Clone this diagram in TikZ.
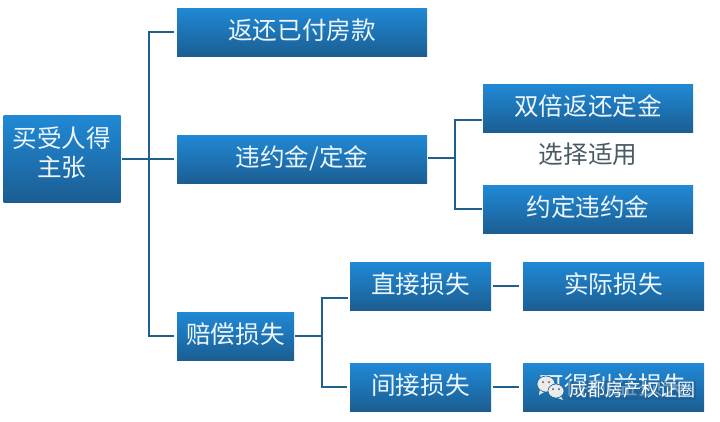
\documentclass[tikz,border=0pt]{standalone}
\usepackage{fontspec}
\setmainfont{Noto Sans CJK SC}
\usetikzlibrary{calc}
\definecolor{boxtop}{HTML}{2089D6}
\definecolor{boxbot}{HTML}{1B5E92}
\definecolor{linkblue}{HTML}{1F5F8C}
\definecolor{notegray}{HTML}{4A5A62}
\newcommand{\liftup}[1]{\raisebox{6.5pt}{#1}}
\tikzset{
  planbox/.style={inner sep=0pt,top color=boxtop,bottom color=boxbot,text=white!92!boxtop,font=\fontsize{24.6}{30}\selectfont,align=center},
  link/.style={draw=linkblue,line width=2pt},
  wechat/.style={fill=white!92!black,draw=boxbot,line width=0.6pt}
}
\begin{document}
\begin{tikzpicture}[x=1pt,y=-1pt]
  \useasboundingbox (0,0) rectangle (720,421);

  \node[planbox,minimum width=117pt,minimum height=87pt] (buyer) at (62,158.5) {\raisebox{14pt}{\shortstack{买受人得\\[3pt]主张}}};

  \node[planbox,minimum width=250pt,minimum height=48pt] (refund) at (302,32) {\liftup{返还已付房款}};
  \node[planbox,minimum width=250pt,minimum height=48pt] (deposit) at (302,159) {\liftup{违约金/定金}};
  \node[planbox,minimum width=117pt,minimum height=48pt] (damages) at (235.5,336) {\liftup{赔偿损失}};

  \node[planbox,minimum width=210pt,minimum height=48pt] (double) at (588,108) {\liftup{双倍返还定金}};
  \node[planbox,minimum width=210pt,minimum height=48pt] (agreed) at (588,209) {\liftup{约定违约金}};
  \node[text=notegray,font=\fontsize{24.6}{28}\selectfont] (choose) at (588,154) {选择适用};

  \node[planbox,minimum width=141pt,minimum height=48pt] (direct) at (420.5,286) {\liftup{直接损失}};
  \node[planbox,minimum width=141pt,minimum height=48pt] (indirect) at (420.5,387) {\liftup{间接损失}};
  \node[planbox,minimum width=181pt,minimum height=48pt] (actual) at (613.5,286) {\liftup{实际损失}};
  \node[planbox,minimum width=181pt,minimum height=48pt] (profit) at (613.5,387) {\liftup{可得利益损失}};

  % trunk from the buyer box
  \coordinate (trunk) at (148.5,159);
  \draw[link,shorten <=1pt,shorten >=3pt] (buyer.east |- deposit.west) -- (deposit.west);
  \draw[link,shorten <=3pt,shorten >=3pt] (refund.west) -- (refund.west -| trunk) -- (damages.west -| trunk) -- (damages.west);

  \coordinate (forkb) at (454.5,158);
  \coordinate (doublein) at ($(double.west)+(0,12)$);
  \draw[link,shorten <=1pt] (deposit.east |- forkb) -- (forkb);
  \draw[link,shorten <=1pt,shorten >=1pt] (doublein) -- (doublein -| forkb) -- (agreed.west -| forkb) -- (agreed.west);

  \coordinate (forkc) at (322,336);
  \coordinate (directin) at ($(direct.west)+(0,12)$);
  \draw[link,shorten <=1pt] (damages.east) -- (forkc);
  \draw[link,shorten <=2pt,shorten >=3pt] (directin) -- (directin -| forkc) -- (indirect.west -| forkc) -- (indirect.west);

  \draw[link,shorten <=2pt,shorten >=4pt] (direct.east) -- (actual.west);
  \draw[link,shorten <=2pt,shorten >=4pt] (indirect.east) -- (profit.west);

  % watermark over the last box
  \node[text=white,fill=boxbot,fill opacity=.6,text opacity=1,inner xsep=1pt,inner ysep=0pt,minimum height=19pt,font=\fontsize{18}{20}\selectfont] (mark) at (632,390) {成都房产权证圈};
  \fill[white!92!black] (540,388) -- (539,395) -- (546,391) -- cycle;
  \draw[wechat] (546,384) ellipse (9pt and 8pt);
  \fill[white!92!black] (560,395) -- (563,400) -- (555,397) -- cycle;
  \draw[wechat] (556,391) ellipse (8pt and 7pt);
  \foreach \xp/\yp in {543/382,549/382,553/389,559/389}
    \fill[black!70] (\xp,\yp) circle (1pt);
\end{tikzpicture}
\end{document}
